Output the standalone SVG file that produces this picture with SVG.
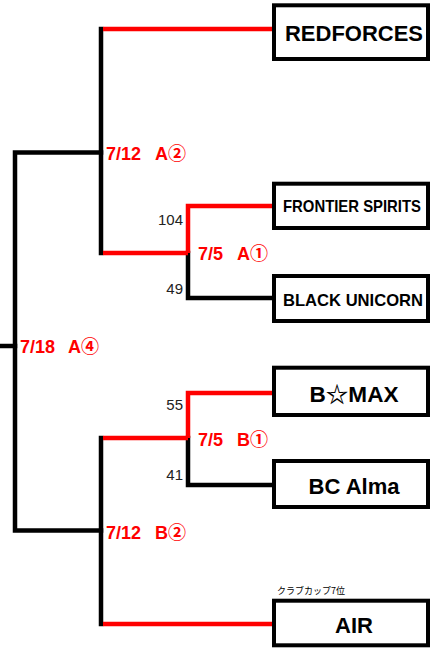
<svg xmlns="http://www.w3.org/2000/svg" width="437" height="648" viewBox="0 0 437 648">
<style>
.box{fill:#fff;stroke:#000;stroke-width:4}
.k{fill:none;stroke:#000;stroke-width:4.5;stroke-linecap:square;stroke-linejoin:miter}
.r{fill:none;stroke:#ff0000;stroke-width:4.5;stroke-linecap:butt;stroke-linejoin:miter}
.team{font-family:"Liberation Sans","Noto Sans CJK JP",sans-serif;font-weight:bold;fill:#000;text-anchor:middle}
.lbl{font-family:"Liberation Sans","Noto Sans CJK JP",sans-serif;font-weight:bold;font-size:18px;fill:#ff0000}
.score{font-family:"Liberation Sans",sans-serif;font-size:15px;fill:#222;text-anchor:end}
.note{font-family:"Noto Sans CJK JP",sans-serif;font-size:9px;fill:#000}
</style>
<rect width="437" height="648" fill="#fff"/>
<g id="connectors">
<path class="k" d="M0 346 H15"/>
<path class="k" d="M101 152.5 H15 V530.5 H101"/>
<path class="k" d="M101 29 V253"/>
<path class="k" d="M188 253 V298 H274"/>
<path class="k" d="M101 438 V624"/>
<path class="k" d="M188 438 V485 H274"/>
<path class="r" d="M103 29 H274"/>
<path class="r" d="M103 253 H188"/>
<path class="r" d="M188 253 V206 H274"/>
<path class="r" d="M103 438 H188"/>
<path class="r" d="M188 438 V393 H274"/>
<path class="r" d="M103 624 H274"/>
</g>
<g id="labels">
<text class="lbl" y="160"><tspan x="106">7/12</tspan><tspan x="155">A②</tspan></text>
<text class="lbl" y="260"><tspan x="198">7/5</tspan><tspan x="237">A①</tspan></text>
<text class="lbl" y="353"><tspan x="20">7/18</tspan><tspan x="68">A④</tspan></text>
<text class="lbl" y="446"><tspan x="198">7/5</tspan><tspan x="237">B①</tspan></text>
<text class="lbl" y="539"><tspan x="106">7/12</tspan><tspan x="155">B②</tspan></text>
<text class="score" x="183" y="225">104</text>
<text class="score" x="183" y="294">49</text>
<text class="score" x="183" y="410">55</text>
<text class="score" x="183" y="480">41</text>
</g>
<g id="redforces">
<rect class="box" x="274" y="5.3" width="154" height="53.7"/>
<text class="team" x="354" y="41" font-size="22" textLength="138" lengthAdjust="spacingAndGlyphs">REDFORCES</text>
</g>
<g id="frontier-spirits">
<rect class="box" x="274" y="183.7" width="154" height="44.3"/>
<text class="team" x="352" y="211.5" font-size="16.5" textLength="138" lengthAdjust="spacingAndGlyphs">FRONTIER SPIRITS</text>
</g>
<g id="black-unicorn">
<rect class="box" x="274" y="276" width="154" height="45"/>
<text class="team" x="353" y="306" font-size="17" textLength="140" lengthAdjust="spacingAndGlyphs">BLACK UNICORN</text>
</g>
<g id="bmax">
<rect class="box" x="274" y="367.7" width="154" height="47.3"/>
<text class="team" x="354" y="402" font-size="22" textLength="89" lengthAdjust="spacingAndGlyphs">B☆MAX</text>
</g>
<g id="bc-alma">
<rect class="box" x="274" y="461" width="154" height="46"/>
<text class="team" x="354" y="494" font-size="22">BC Alma</text>
</g>
<g id="air">
<text class="note" x="277" y="594">クラブカップ7位</text>
<rect class="box" x="274" y="600.7" width="154" height="44.6"/>
<text class="team" x="354" y="633" font-size="22">AIR</text>
</g>
</svg>
